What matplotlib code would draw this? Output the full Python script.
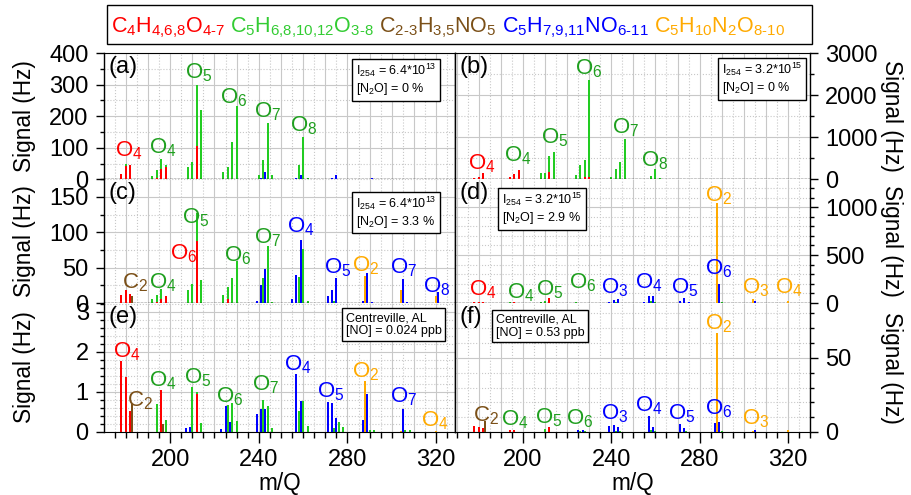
import numpy as np
import matplotlib
matplotlib.use('Agg')
import matplotlib.pyplot as plt
from matplotlib import font_manager
from matplotlib.ticker import MultipleLocator, FixedLocator
from matplotlib.patches import Rectangle

plt.rcParams['font.family'] = ['Liberation Sans', 'DejaVu Sans']
plt.rcParams['mathtext.fontset'] = 'custom'
plt.rcParams['mathtext.rm'] = 'Liberation Sans'
plt.rcParams['mathtext.it'] = 'Liberation Sans:italic'
plt.rcParams['mathtext.bf'] = 'Liberation Sans:bold'

# ---------------- data ----------------
red_mz = [178, 180, 182, 194, 196, 198, 210, 212, 214, 226, 228, 230]
green_mz = [180, 192, 194, 196, 198, 208, 210, 212, 214, 224, 226, 228, 230,
            240, 242, 244, 246, 256, 258, 260, 262, 274, 276, 278, 290, 292, 306, 308]
brown_mz = [183, 197]
blue_mz = [207, 209, 223, 225, 227, 239, 241, 243, 255, 257, 259, 271, 273, 275,
           287, 289, 291, 303, 305, 307, 321]
orange_mz = [288, 304, 320]

red_a = [16, 42, 45, 4, 33, 39, 0, 105, 0, 0, 0, 0]
red_b = [39, 62, 156, 47, 117, 218, 0, 170, 0, 0, 55, 55]
red_c = [12, 19, 13, 2, 6, 10, 0, 88, 0, 6, 0, 0]
red_d = [8, 10, 8, 5, 8, 5, 0, 49, 0, 0, 0, 0]
red_e = [1.78, 1.38, 0.52, 0, 1.05, 0, 0, 0.95, 0, 0, 0, 0]
red_f = [4.3, 3.4, 2.7, 1.6, 1.1, 0, 0, 3.4, 0, 0, 0, 0]

green_a = [50, 12, 28, 63, 45, 40, 55, 300, 218, 23, 40, 118, 232,
           15, 62, 178, 15, 0, 46, 133, 5, 0, 0, 0, 0, 0, 0, 0]
green_b = [0, 16, 25, 20, 0, 140, 156, 560, 660, 109, 328, 468, 2356,
           55, 250, 420, 950, 0, 78, 250, 39, 0, 0, 0, 0, 0, 0, 0]
green_c = [0, 6, 11, 20, 0, 18, 27, 127, 32, 12, 22, 35, 59,
           0, 36, 81, 2, 0, 37, 76, 3, 3, 0, 0, 0, 0, 0, 0]
green_d = [0, 5, 8, 5, 0, 10, 25, 15, 0, 8, 5, 5, 0,
           0, 15, 0, 0, 0, 25, 15, 0, 0, 0, 0, 15, 0, 0, 0]
green_e = [0.17, 0, 0.69, 0.4, 0.3, 0, 1.12, 1.0, 0.22, 0, 0.67, 0.72, 0.28,
           0, 0.79, 0.64, 0.1, 0, 0.53, 0.78, 0.15, 0.1, 0.25, 0.12, 0.05, 0.05, 0.05, 0.05]
green_f = [0, 0, 1.0, 0.8, 0, 0, 2.0, 0.5, 0, 0, 1.0, 1.0, 0,
           0, 1.0, 1.0, 0, 0, 1.2, 0.8, 0, 0.5, 0, 0, 0.8, 0, 0, 0]

brown_a = [2, 0]
brown_b = [0, 0]
brown_c = [10.6, 0]
brown_d = [0, 0]
brown_e = [0.69, 0.2]
brown_f = [7.2, 0]

blue_a = [0, 0, 0, 0, 0, 2, 4, 23, 2, 3, 15, 2, 4, 15, 0, 0, 3, 0, 2, 0, 2]
blue_b = [0, 0, 0, 0, 0, 0, 15, 10, 0, 15, 10, 0, 0, 15, 0, 10, 0, 0, 10, 0, 0]
blue_c = [0, 0, 0, 0, 0, 3, 26, 48, 6, 39, 89, 10, 19, 36, 3, 43, 2, 0, 34, 2, 16]
blue_d = [0, 0, 0, 0, 0, 10, 35, 42, 10, 77, 77, 25, 49, 10, 0, 200, 0, 0, 20, 0, 0]
blue_e = [0.1, 0.13, 0.08, 0.66, 0.24, 0.44, 0.58, 0.58, 0, 1.44, 0.78, 0.75, 0.73, 0.36,
          0.3, 0.95, 0, 0, 0.58, 0, 0]
blue_f = [0, 0, 0, 1.6, 1.6, 3.8, 4.9, 3.4, 0, 10.6, 3.4, 5.6, 2.7, 0, 6.1, 6.5, 0, 0, 1.6, 0, 0]

orange_a = [2, 1, 0]
orange_b = [0, 0, 0]
orange_c = [38, 18, 10]
orange_d = [1045, 42, 25]
orange_e = [1.28, 0.03, 0.03]
orange_f = [66.7, 1.0, 1.1]

# peak labels: (text, colour key, m/Q, signal)
lab_a = [('O_4', 'r', 181.5, 73), ('O_4', 'g', 196.8, 83), ('O_5', 'g', 212.9, 321),
         ('O_6', 'g', 228.7, 240), ('O_7', 'g', 243.8, 196), ('O_8', 'g', 260.1, 151)]
lab_b = [('O_4', 'r', 181.4, 233), ('O_4', 'g', 197.7, 426), ('O_5', 'g', 214.5, 852),
         ('O_6', 'g', 229.9, 2480), ('O_7', 'g', 246.4, 1100), ('O_8', 'g', 259.8, 310)]
lab_c = [('C_2', 'n', 184.0, 21), ('O_4', 'g', 196.8, 21), ('O_5', 'g', 211.7, 112),
         ('O_6', 'r', 206.0, 61), ('O_6', 'g', 230.5, 59), ('O_7', 'g', 244.1, 85),
         ('O_4', 'b', 259.0, 100), ('O_5', 'b', 275.5, 42), ('O_2', 'o', 288.4, 44),
         ('O_7', 'b', 305.2, 42), ('O_8', 'b', 320.3, 15)]
lab_d = [('O_4', 'r', 181.7, 77), ('O_4', 'g', 198.8, 53), ('O_5', 'g', 211.9, 77),
         ('O_6', 'g', 226.9, 148), ('O_3', 'b', 241.4, 95), ('O_4', 'b', 257.2, 148),
         ('O_5', 'b', 273.2, 95), ('O_2', 'o', 288.6, 1063), ('O_6', 'b', 288.8, 296),
         ('O_3', 'o', 305.2, 95), ('O_4', 'o', 320.5, 95)]
lab_e = [('O_4', 'r', 180.4, 1.86), ('C_2', 'n', 186.5, 0.65), ('O_4', 'g', 196.8, 1.15),
         ('O_5', 'g', 212.5, 1.22), ('O_6', 'g', 227.0, 0.73), ('O_7', 'g', 242.9, 1.03),
         ('O_4', 'b', 257.5, 1.53), ('O_5', 'b', 272.3, 0.86), ('O_2', 'o', 288.0, 1.36),
         ('O_7', 'b', 305.5, 0.73), ('O_4', 'o', 319.2, 0.15)]
lab_f = [('C_2', 'n', 183.3, 7.2), ('O_4', 'g', 196.2, 4.3), ('O_5', 'g', 211.8, 6.1),
         ('O_6', 'g', 225.5, 4.9), ('O_3', 'b', 241.4, 8.3), ('O_4', 'b', 257.2, 13.9),
         ('O_5', 'b', 271.7, 8.3), ('O_6', 'b', 288.8, 11.7), ('O_2', 'o', 288.8, 69),
         ('O_3', 'o', 305.2, 4.9)]

info_a = 'I$_{254}$ = 6.4*10$^{13}$\n[N$_2$O] = 0 %'
info_b = 'I$_{254}$ = 3.2*10$^{15}$\n[N$_2$O] = 0 %'
info_c = 'I$_{254}$ = 6.4*10$^{13}$\n[N$_2$O] = 3.3 %'
info_d = 'I$_{254}$ = 3.2*10$^{15}$\n[N$_2$O] = 2.9 %'
info_e = 'Centreville, AL\n[NO] = 0.024 ppb'
info_f = 'Centreville, AL\n[NO] = 0.53 ppb'

legend_txt = [r'$\mathregular{C_4H_{4{,}6{,}8}O_{4\text{-}7}}$',
              r'$\mathregular{C_5H_{6{,}8{,}10{,}12}O_{3\text{-}8}}$',
              r'$\mathregular{C_{2\text{-}3}H_{3{,}5}NO_5}$',
              r'$\mathregular{C_5H_{7{,}9{,}11}NO_{6\text{-}11}}$',
              r'$\mathregular{C_5H_{10}N_2O_{8\text{-}10}}$']

# ---------------- styles ----------------
C_RED = '#ff0000'
C_GREEN = '#22cc22'
C_GREEN_T = '#1f9f1f'
C_BROWN = '#7b5018'
C_BLUE = '#0000ff'
C_ORANGE = '#ffaa00'
lab_colors = {'r': C_RED, 'g': C_GREEN_T, 'n': C_BROWN, 'b': C_BLUE, 'o': C_ORANGE}
legend_colors = [C_RED, '#33cc33', C_BROWN, C_BLUE, C_ORANGE]

# legend font: narrow sans if available
try:
    font_manager.findfont(font_manager.FontProperties(family='Liberation Sans Narrow'),
                          fallback_to_default=False)
    LEG_FAMILY, LEG_FS = 'Liberation Sans Narrow', 18.6
except Exception:
    LEG_FAMILY, LEG_FS = 'Liberation Sans', 15.5

W, H = 911, 495
fig = plt.figure(figsize=(W / 100, H / 100), dpi=100)

col_x = [(104, 455), (455, 810)]
row_y = [(53, 179.3), (179.3, 303), (303, 432)]
col_xlim = [(170.2, 328.5), (169.2, 330.0)]

panels = [
    ('a', 0, 0, (0, 400), 100, 50, red_a, green_a, brown_a, blue_a, orange_a, lab_a, info_a, (0.718, 0.929)),
    ('b', 0, 1, (0, 3000), 1000, 500, red_b, green_b, brown_b, blue_b, orange_b, lab_b, info_b, (0.752, 0.937)),
    ('c', 1, 0, (0, 175), 50, 25, red_c, green_c, brown_c, blue_c, orange_c, lab_c, info_c, (0.718, 0.876)),
    ('d', 1, 1, (0, 1290), 500, 100, red_d, green_d, brown_d, blue_d, orange_d, lab_d, info_d, (0.132, 0.907)),
    ('e', 2, 0, (0, 3.22), 1, 0.2, red_e, green_e, brown_e, blue_e, orange_e, lab_e, info_e, (0.689, 0.93)),
    ('f', 2, 1, (0, 87), 50, 10, red_f, green_f, brown_f, blue_f, orange_f, lab_f, info_f, (0.115, 0.92)),
]

BW = 0.9
FS_TICK = 17
FS_LAB = 16.3
for (key, row, col, ylim, ymaj, ymin, rv, gv, nv, bv, ov, labs, info, ipos) in panels:
    x0, x1 = col_x[col]
    y0, y1 = row_y[row]
    ax = fig.add_axes([x0 / W, (H - y1) / H, (x1 - x0) / W, (y1 - y0) / H])
    ax.set_xlim(*col_xlim[col])
    ax.set_ylim(*ylim)

    # grid
    xs10 = np.arange(170, 331, 10)
    xs5 = np.arange(175, 331, 10)
    ax.vlines(xs10, ylim[0], ylim[1], colors='#c8c8c8', linewidth=0.8, zorder=0)
    ax.vlines(xs5, ylim[0], ylim[1], colors='#c8c8c8', linewidth=0.8, linestyles=':', zorder=0)
    ax.yaxis.set_major_locator(MultipleLocator(ymaj))
    ax.yaxis.set_minor_locator(MultipleLocator(ymin))
    ax.yaxis.grid(True, which='major', color='#c8c8c8', linewidth=0.8, zorder=0)
    ax.yaxis.grid(True, which='minor', color='#c8c8c8', linewidth=0.8, linestyle=':', zorder=0)
    ax.set_axisbelow(True)

    # bars
    ax.bar(green_mz, gv, width=BW, color=C_GREEN, linewidth=0, zorder=2)
    ax.bar(orange_mz, ov, width=BW, color=C_ORANGE, linewidth=0, zorder=3)
    ax.bar(blue_mz, bv, width=BW, color=C_BLUE, linewidth=0, zorder=3)
    ax.bar(brown_mz, nv, width=BW, color=C_BROWN, linewidth=0, zorder=3)
    ax.bar(red_mz, rv, width=BW, color=C_RED, linewidth=0, zorder=4)

    # peak labels
    for txt, ck, xm, ym in labs:
        ax.text(xm, ym, r'$\mathregular{%s}$' % txt, color=lab_colors[ck], fontsize=16,
                ha='center', va='baseline', zorder=6, clip_on=False)

    # panel letter
    ax.text(0.012, 0.975, '(%s)' % key, transform=ax.transAxes, fontsize=17,
            ha='left', va='top', zorder=7)
    # info box
    ax.text(ipos[0], ipos[1], info, transform=ax.transAxes, fontsize=9, ha='left', va='top',
            linespacing=1.15, zorder=8,
            bbox=dict(boxstyle='square,pad=0.3', fc='white', ec='black', lw=1))

    # spines
    for s in ['left', 'right']:
        ax.spines[s].set_linewidth(1)
    ax.spines['top'].set_visible(row == 0)
    if row < 2:
        ax.spines['bottom'].set_linestyle(':')
        ax.spines['bottom'].set_linewidth(1)
        ax.tick_params(axis='x', which='both', bottom=False, labelbottom=False)
    else:
        ax.xaxis.set_major_locator(FixedLocator([200, 240, 280, 320]))
        ax.xaxis.set_minor_locator(MultipleLocator(5))
        ax.tick_params(axis='x', which='major', direction='out', length=8, width=1,
                       labelsize=FS_TICK, pad=4)
        ax.tick_params(axis='x', which='minor', direction='out', length=4, width=1)
        ax.set_xlabel('m/Q', fontsize=FS_LAB, labelpad=1)

    if col == 0:
        ax.tick_params(axis='y', which='major', direction='out', length=6, width=1,
                       labelsize=FS_TICK, pad=5, left=True, right=False)
        ax.tick_params(axis='y', which='minor', direction='out', length=3, width=1,
                       left=True, right=False)
    else:
        ax.yaxis.tick_right()
        ax.tick_params(axis='y', which='major', direction='out', length=6, width=1,
                       labelsize=FS_TICK, pad=5, left=False, right=True)
        ax.tick_params(axis='y', which='minor', direction='out', length=3, width=1,
                       left=False, right=True)

# y labels
for row in range(3):
    yc = (row_y[row][0] + row_y[row][1]) / 2
    fig.text(24 / W, (H - yc) / H, 'Signal (Hz)', rotation=90, fontsize=FS_LAB,
             ha='center', va='center')
    fig.text(891 / W, (H - yc) / H, 'Signal (Hz)', rotation=270, fontsize=FS_LAB,
             ha='center', va='center')

# legend box
fig.patches.append(Rectangle((107 / W, (H - 44) / H), (812 - 107) / W, 39 / H,
                             transform=fig.transFigure, fc='white', ec='black', lw=1))
fig.canvas.draw()
rend = fig.canvas.get_renderer()
xpos = 111
for txt, c in zip(legend_txt, legend_colors):
    t = fig.text(xpos / W, (H - 32) / H, txt, color=c, fontsize=LEG_FS, family=LEG_FAMILY,
                 ha='left', va='baseline')
    bb = t.get_window_extent(rend)
    xpos = bb.x1 + 5

fig.savefig('out.png', dpi=100)
